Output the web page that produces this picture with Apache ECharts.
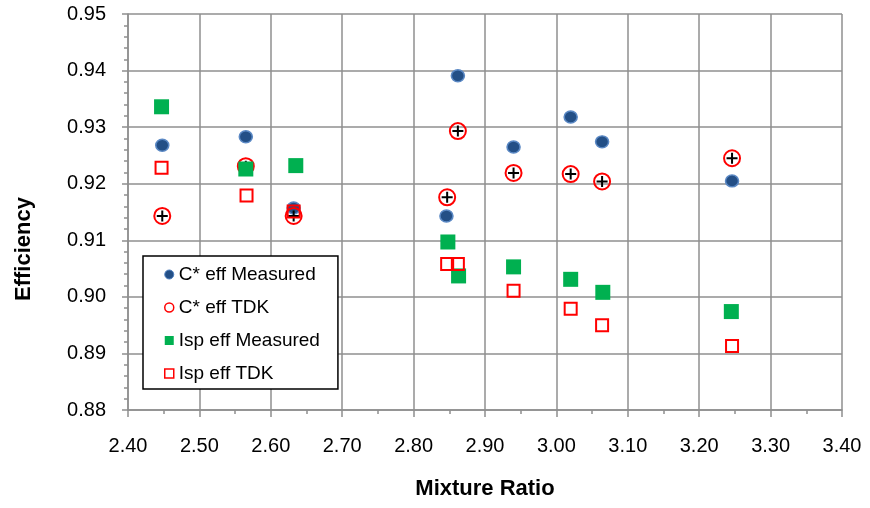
<!DOCTYPE html>
<html>
<head>
<meta charset="utf-8">
<script src="https://cdn.jsdelivr.net/npm/echarts@6/dist/echarts.min.js"></script>
<style>
  html, body { margin: 0; padding: 0; background: #fff; }
  #chart { width: 870px; height: 508px; }
</style>
</head>
<body>
<div id="chart"></div>
<script>
// values
var cStarMeasX = [2.448, 2.565, 2.632, 2.862, 2.846, 2.940, 3.020, 3.064, 3.246];
var cStarMeasY = [0.9268, 0.9283, 0.9157, 0.9391, 0.9143, 0.9265, 0.9318, 0.9274, 0.9205];

var cStarTdkX = [2.448, 2.565, 2.632, 2.862, 2.847, 2.940, 3.020, 3.064, 3.246];
var cStarTdkY = [0.9143, 0.9231, 0.9143, 0.9293, 0.9176, 0.9219, 0.9217, 0.9204, 0.9245];

var ispMeasX = [2.447, 2.565, 2.635, 2.848, 2.863, 2.940, 3.020, 3.065, 3.245];
var ispMeasY = [0.9336, 0.9226, 0.9232, 0.9097, 0.9037, 0.9053, 0.9031, 0.9008, 0.8974];

var ispTdkX = [2.447, 2.566, 2.632, 2.847, 2.862, 2.940, 3.020, 3.064, 3.246];
var ispTdkY = [0.9228, 0.9179, 0.9151, 0.9058, 0.9058, 0.9011, 0.8979, 0.8950, 0.8913];

var seriesNames = ["C* eff Measured", "C* eff TDK", "Isp eff Measured", "Isp eff TDK"];

function pairs(xs, ys) {
  var out = [];
  for (var i = 0; i < xs.length; i++) {
    out.push([xs[i], ys[i]]);
  }
  return out;
}

var font = "'Liberation Sans', Arial, sans-serif";
var gridColor = "#8f8f8f";
var plusPath = "path://M4.5,0H6.5V4.5H11V6.5H6.5V11H4.5V6.5H0V4.5H4.5Z";

var chart = echarts.init(document.getElementById("chart"));
var option = {
  animation: false,
  backgroundColor: "#fff",
  grid: { left: 128, right: 28, top: 14, bottom: 98 },
  legend: {
    orient: "vertical",
    left: 143,
    top: 256,
    padding: [9, 18, 6, 21],
    itemGap: 14,
    itemWidth: 9,
    itemHeight: 9,
    backgroundColor: "#fff",
    borderColor: "#000",
    borderWidth: 1.5,
    borderRadius: 0,
    textStyle: { fontFamily: font, fontSize: 19, color: "#000", lineHeight: 19 },
    data: [
      { name: seriesNames[0], icon: "circle", itemStyle: { color: "#234f86", borderColor: "#4e7fbf", borderWidth: 1 } },
      { name: seriesNames[1], icon: "circle", itemStyle: { color: "#fff", borderColor: "#ff0000", borderWidth: 1.5 } },
      { name: seriesNames[2], icon: "rect", itemStyle: { color: "#00b050", borderWidth: 0 } },
      { name: seriesNames[3], icon: "rect", itemStyle: { color: "#fff", borderColor: "#ff0000", borderWidth: 1.5 } }
    ]
  },
  xAxis: {
    type: "value",
    min: 2.4,
    max: 3.4,
    interval: 0.1,
    name: "Mixture Ratio",
    nameLocation: "middle",
    nameGap: 68,
    nameTextStyle: { fontFamily: font, fontSize: 22, fontWeight: "bold", color: "#000" },
    axisLine: { show: true, lineStyle: { color: gridColor, width: 1.5 } },
    axisTick: { show: true, length: 7, lineStyle: { color: gridColor, width: 1.5 } },
    minorTick: { show: true, splitNumber: 2, length: 4, lineStyle: { color: gridColor, width: 1.5 } },
    axisLabel: {
      margin: 26,
      fontFamily: font,
      fontSize: 20,
      color: "#000",
      formatter: function (v) { return v.toFixed(2); }
    },
    splitLine: { show: true, lineStyle: { color: gridColor, width: 1.5 } }
  },
  yAxis: {
    type: "value",
    min: 0.88,
    max: 0.95,
    interval: 0.01,
    name: "Efficiency",
    nameLocation: "middle",
    nameGap: 93,
    nameTextStyle: { fontFamily: font, fontSize: 22, fontWeight: "bold", color: "#000", padding: [0, 74, 0, 0] },
    axisLine: { show: true, lineStyle: { color: gridColor, width: 1.5 } },
    axisTick: { show: true, length: 6, lineStyle: { color: gridColor, width: 1.5 } },
    minorTick: { show: true, splitNumber: 5, length: 4, lineStyle: { color: gridColor, width: 1.5 } },
    axisLabel: {
      margin: 22,
      fontFamily: font,
      fontSize: 20,
      color: "#000",
      formatter: function (v) { return v.toFixed(2); }
    },
    splitLine: { show: true, lineStyle: { color: gridColor, width: 1.5 } }
  },
  series: [
    {
      name: seriesNames[0],
      type: "scatter",
      symbol: "circle",
      symbolSize: [13, 12],
      itemStyle: { color: "#234f86", borderColor: "#5a88c4", borderWidth: 1.5, opacity: 1 },
      data: pairs(cStarMeasX, cStarMeasY)
    },
    {
      name: seriesNames[1],
      type: "scatter",
      symbol: "circle",
      symbolSize: 16,
      itemStyle: { color: "rgba(0,0,0,0)", borderColor: "#ff0000", borderWidth: 2, opacity: 1 },
      data: pairs(cStarTdkX, cStarTdkY)
    },
    {
      name: "TDK marker",
      type: "scatter",
      symbol: plusPath,
      symbolSize: 11,
      itemStyle: { color: "#000", opacity: 1 },
      data: pairs(cStarTdkX, cStarTdkY)
    },
    {
      name: seriesNames[2],
      type: "scatter",
      symbol: "rect",
      symbolSize: 15,
      itemStyle: { color: "#00b050", opacity: 1 },
      data: pairs(ispMeasX, ispMeasY)
    },
    {
      name: seriesNames[3],
      type: "scatter",
      symbol: "rect",
      symbolSize: 12,
      itemStyle: { color: "rgba(0,0,0,0)", borderColor: "#ff0000", borderWidth: 2, opacity: 1 },
      data: pairs(ispTdkX, ispTdkY)
    }
  ]
};
chart.setOption(option);
</script>
</body>
</html>
